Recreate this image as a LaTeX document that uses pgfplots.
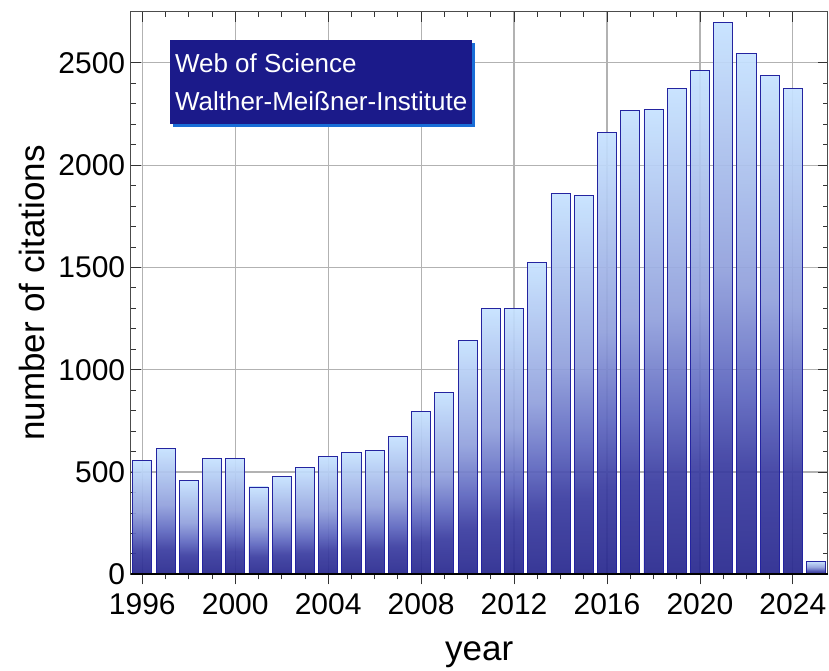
\documentclass[border=0pt]{standalone}
\usepackage{pgfplots}
\pgfplotsset{compat=1.18}
\usepackage{fontspec}
\setmainfont{Liberation Sans}
\definecolor{barlight}{RGB}{198,226,255}
\definecolor{barmidA}{RGB}{145,160,220}
\definecolor{barmidB}{RGB}{95,104,192}
\definecolor{barmidC}{RGB}{58,60,160}
\definecolor{bardark}{RGB}{40,40,142}
\definecolor{baredge}{RGB}{36,36,160}
\definecolor{boxfill}{RGB}{27,26,138}
\definecolor{boxshadow}{RGB}{25,110,215}
\pgfdeclareverticalshading{barshade}{100bp}{color(0bp)=(bardark); color(25bp)=(bardark); color(35bp)=(barmidC); color(42.5bp)=(barmidB); color(52.5bp)=(barmidA); color(75bp)=(barlight); color(100bp)=(barlight)}
\pgfplotsset{citbar/.style={ybar, bar width=0.82, bar shift=0, draw=baredge, line width=0.8bp, shading=barshade, fill opacity=0.93}}
\begin{document}
\begin{tikzpicture}
\begin{axis}[
  name=ax, scale only axis, width=697bp, height=562.6bp,
  xmin=1995.5, xmax=2025.5, ymin=0, ymax=2750,
  xtick={1996,2000,...,2024}, ytick={0,500,...,2500},
  minor x tick num=3, minor y tick num=4,
  xmajorgrids, ymajorgrids, grid style={gray!60, line width=1.2bp},
  tick align=inside, xtick pos=right, xticklabel pos=left, ytick pos=both,
  major tick length=10bp, minor tick length=5bp,
  tick style={black!80, line width=0.8bp},
  axis line style={black!70, line width=1bp},
  /pgf/number format/assume math mode=true,
  /pgf/number format/set thousands separator={},
  tick label style={font=\fontsize{30bp}{36bp}\selectfont},
  xticklabel style={yshift=-16bp},
  yticklabel style={xshift=-2bp},
  xlabel={year}, ylabel={number of citations},
  label style={font=\fontsize{35bp}{40bp}\selectfont},
  xlabel style={at={([yshift=-85.7bp]rel axis cs:0.5,0)}, anchor=base},
  ylabel style={at={([xshift=-85.7bp]rel axis cs:0,0.5)}, anchor=base},
]
\addplot[citbar] coordinates {(1996,555)};
\addplot[citbar] coordinates {(1997,617)};
\addplot[citbar] coordinates {(1998,459)};
\addplot[citbar] coordinates {(1999,565)};
\addplot[citbar] coordinates {(2000,565)};
\addplot[citbar] coordinates {(2001,427)};
\addplot[citbar] coordinates {(2002,477)};
\addplot[citbar] coordinates {(2003,521)};
\addplot[citbar] coordinates {(2004,577)};
\addplot[citbar] coordinates {(2005,594)};
\addplot[citbar] coordinates {(2006,604)};
\addplot[citbar] coordinates {(2007,674)};
\addplot[citbar] coordinates {(2008,797)};
\addplot[citbar] coordinates {(2009,888)};
\addplot[citbar] coordinates {(2010,1144)};
\addplot[citbar] coordinates {(2011,1298)};
\addplot[citbar] coordinates {(2012,1300)};
\addplot[citbar] coordinates {(2013,1525)};
\addplot[citbar] coordinates {(2014,1862)};
\addplot[citbar] coordinates {(2015,1851)};
\addplot[citbar] coordinates {(2016,2160)};
\addplot[citbar] coordinates {(2017,2268)};
\addplot[citbar] coordinates {(2018,2273)};
\addplot[citbar] coordinates {(2019,2377)};
\addplot[citbar] coordinates {(2020,2463)};
\addplot[citbar] coordinates {(2021,2698)};
\addplot[citbar] coordinates {(2022,2546)};
\addplot[citbar] coordinates {(2023,2440)};
\addplot[citbar] coordinates {(2024,2377)};
\addplot[citbar] coordinates {(2025,65)};
\node[fill=boxshadow, anchor=north west, minimum width=302bp, minimum height=84bp, inner sep=0pt]
  at ([xshift=3bp,yshift=-3bp]rel axis cs:0.0564,0.9497) {};
\node[fill=boxfill, anchor=north west, minimum width=302bp, minimum height=84bp, inner xsep=4bp, inner ysep=0pt,
  text=white, font=\fontsize{26bp}{38bp}\selectfont, align=left]
  at (rel axis cs:0.0564,0.9497) {Web of Science\\Walther-Meißner-Institute};
\end{axis}
\begin{axis}[
  scale only axis, width=697bp, height=562.6bp,
  xmin=1995.5, xmax=2025.5, ymin=0, ymax=2750,
  axis x line*=bottom, axis y line=none,
  x axis line style={-, black, line width=2bp},
  xtick={1996,2000,...,2024}, minor x tick num=3, xticklabels={},
  ytick=\empty,
  tick align=outside, major tick length=10bp, minor tick length=5bp,
  tick style={black!80, line width=0.8bp},
]
\end{axis}
\pgfresetboundingbox
\path ([xshift=-130.7bp,yshift=-96.7bp]ax.south west) rectangle ([xshift=1.3bp,yshift=11.7bp]ax.north east);
\end{tikzpicture}
\end{document}
